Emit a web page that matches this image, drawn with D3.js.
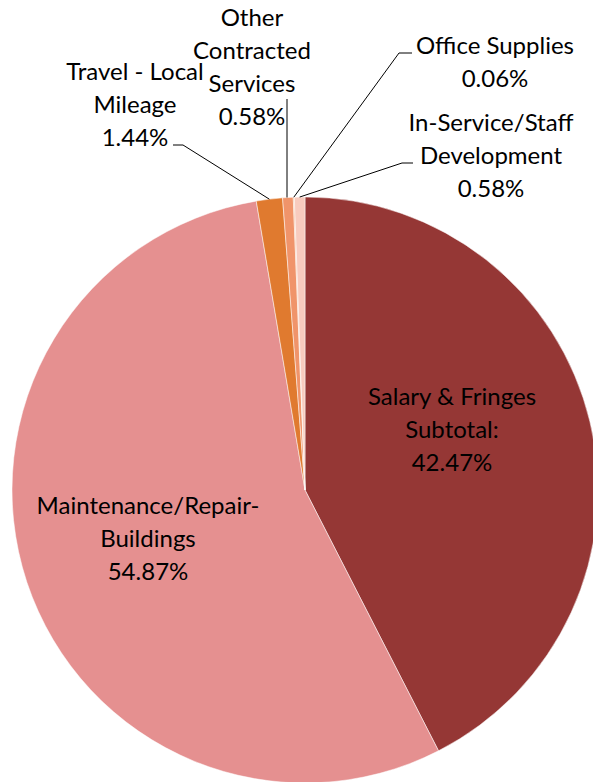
<!DOCTYPE html>
<html>
<head>
<meta charset="utf-8">
<script src="https://cdn.jsdelivr.net/npm/d3@7"></script>
<style>
  html, body { margin: 0; padding: 0; background: #fff; }
  svg { display: block; }
  text { font-family: Lato, "Open Sans", sans-serif; fill: #000; }
</style>
</head>
<body>
<svg id="chart" width="593" height="782"></svg>
<script>
// ---- data ----
const categories = [
  "Salary & Fringes Subtotal:",
  "Maintenance/Repair-Buildings",
  "Travel - Local Mileage",
  "Other Contracted Services",
  "Office Supplies",
  "In-Service/Staff Development"
];
const values = [42.47, 54.87, 1.44, 0.58, 0.06, 0.58];
const labelLines = [
  ["Salary & Fringes", "Subtotal:"],
  ["Maintenance/Repair-", "Buildings"],
  ["Travel - Local", "Mileage"],
  ["Other", "Contracted", "Services"],
  ["Office Supplies"],
  ["In-Service/Staff", "Development"]
];
const colors = ["#953735", "#E59090", "#E07A2F", "#F0946A", "#F4B183", "#F8CBBE"];

// ---- layout (label anchors: center x, first baseline y; leader elbow) ----
const labelLayout = [
  { x: 452, y: 405, inside: true },
  { x: 148, y: 514, inside: true },
  { x: 135, y: 80,  elbow: [183, 145], start: [173, 145] },
  { x: 252, y: 26,  elbow: null, start: [287, 99] },
  { x: 495, y: 54,  elbow: [399, 53], start: [412, 53] },
  { x: 491, y: 131, elbow: [402, 163], start: [413, 163] }
];

const cx = 305, cy = 490, R = 293;
const fontSize = 24, lineH = 33;

const svg = d3.select("#chart");
const g = svg.append("g").attr("transform", `translate(${cx},${cy})`);

const pie = d3.pie().sort(null).value(d => d)(values);
const arc = d3.arc().innerRadius(0).outerRadius(R);

g.selectAll("path.slice")
  .data(pie)
  .join("path")
  .attr("class", "slice")
  .attr("d", arc)
  .attr("fill", (d, i) => colors[i])
  .attr("stroke", "#fff")
  .attr("stroke-width", 0.5);

// leader lines
const edgeArc = d3.arc().innerRadius(R).outerRadius(R);
pie.forEach((d, i) => {
  const L = labelLayout[i];
  if (L.inside) return;
  const mid = (d.startAngle + d.endAngle) / 2;
  const px = cx + R * Math.sin(mid), py = cy - R * Math.cos(mid);
  let pts;
  if (L.elbow) pts = [L.start, L.elbow, [px, py]];
  else pts = [L.start, [L.start[0], py]];
  svg.append("path")
    .attr("d", d3.line()(pts))
    .attr("fill", "none")
    .attr("stroke", "#000")
    .attr("stroke-width", 1);
});

// labels
pie.forEach((d, i) => {
  const L = labelLayout[i];
  const lines = labelLines[i].concat([d3.format(".2f")(values[i]) + "%"]);
  const t = svg.append("text")
    .attr("text-anchor", "middle")
    .attr("font-size", fontSize);
  lines.forEach((ln, k) => {
    t.append("tspan").attr("x", L.x).attr("y", L.y + k * lineH).text(ln);
  });
});
</script>
</body>
</html>
